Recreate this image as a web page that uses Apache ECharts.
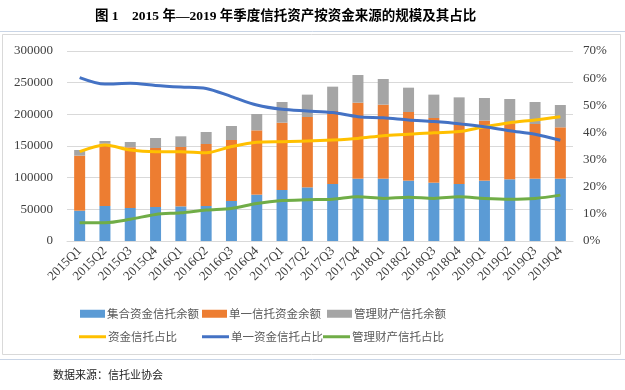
<!DOCTYPE html>
<html>
<head>
<meta charset="utf-8">
<script src="https://cdn.jsdelivr.net/npm/echarts@6/dist/echarts.min.js"></script>
<style>
html,body{margin:0;padding:0;background:#fff;}
#c{width:625px;height:390px;}
</style>
</head>
<body>
<div id="c"></div>
<script>
const categories = ['2015Q1','2015Q2','2015Q3','2015Q4','2016Q1','2016Q2','2016Q3','2016Q4','2017Q1','2017Q2','2017Q3','2017Q4','2018Q1','2018Q2','2018Q3','2018Q4','2019Q1','2019Q2','2019Q3','2019Q4'];
const collectiveAmt = [47900,55300,52100,53700,54700,55300,63200,73200,80500,84700,90000,98400,98400,95300,92100,90000,95300,97400,98400,98400];
const singleAmt = [86800,98400,95800,93100,93700,97900,96300,101500,106300,111100,115300,120000,116900,108400,102100,97400,94700,88400,86300,81100];
const managementAmt = [9000,4200,8400,15800,16900,18900,22100,25800,32700,35300,38400,43700,40500,38400,36900,39400,35800,38400,34800,35200];
const fundShare = [32.9,35.4,33.5,32.9,32.9,32.5,34.8,36.4,36.6,36.8,37.2,37.8,38.8,39.3,39.9,40.3,42.1,43.6,44.6,45.8];
const singleShare = [60.2,57.8,58.1,57.3,56.7,56.2,53.2,50.1,48.5,47.9,47.3,45.8,45.4,44.6,44.0,43.2,42.1,40.6,39.3,37.1];
const managementShare = [6.75,6.75,8.0,9.8,10.4,11.4,12.0,13.8,14.9,15.2,15.4,16.3,15.7,16.1,15.7,16.3,15.7,15.4,15.7,16.9];
const leftTicks = {min:0, max:300000, interval:50000};
const rightTicks = {min:0, max:70, interval:10};

const names = ['集合资金信托余额','单一信托资金余额','管理财产信托余额','资金信托占比','单一资金信托占比','管理财产信托占比'];
const colors = ['#5B9BD5','#ED7D31','#A5A5A5','#FFC000','#4472C4','#70AD47'];

const serif = 'Liberation Serif';
const cjk = 'Noto Sans CJK SC';
const legendFont = {fontSize:11.5, color:'#595959', fontFamily:cjk};

function mkLegend(name, left, top, isLine){
  return {
    data:[name], left:left, top:top, padding:0, itemGap:0,
    icon:'rect', itemWidth: isLine?27:25, itemHeight: isLine?3:8,
    textStyle: Object.assign({padding:[0,0,0,-3]}, legendFont)
  };
}

const chart = echarts.init(document.getElementById('c'), null, {renderer:'canvas'});
chart.setOption({
  animation:false,
  backgroundColor:'#fff',
  title:{
    text:'图 1　2015 年—2019 年季度信托资产按资金来源的规模及其占比',
    left:90, top:5,
    textStyle:{fontSize:13.5, fontWeight:'bold', color:'#000', fontFamily:'"Liberation Serif","Noto Sans CJK SC",serif'}
  },
  graphic:[
    {type:'line', shape:{x1:0,y1:31.5,x2:625,y2:31.5}, style:{stroke:'#C9D5E6', lineWidth:1}, silent:true},
    {type:'rect', shape:{x:2.5,y:34.5,width:618,height:320}, style:{fill:'none', stroke:'#D9D9D9', lineWidth:1}, silent:true},
    {type:'line', shape:{x1:0,y1:359.5,x2:625,y2:359.5}, style:{stroke:'#C9D5E6', lineWidth:1}, silent:true},
    {type:'text', left:53, top:369, style:{text:'数据来源：信托业协会', fontSize:11, fill:'#222', fontFamily:cjk}, silent:true}
  ],
  legend:[
    mkLegend(names[0],80,308,false),
    mkLegend(names[1],202,308,false),
    mkLegend(names[2],327,308,false),
    mkLegend(names[3],79,331,true),
    mkLegend(names[4],202,331,true),
    mkLegend(names[5],323,331,true)
  ],
  grid:{left:67, right:52, top:51, height:190, containLabel:false},
  xAxis:{
    type:'category', data:categories,
    axisTick:{show:false},
    axisLine:{lineStyle:{color:'#D9D9D9'}},
    axisLabel:{interval:0, rotate:45, margin:8, fontSize:13, color:'#404040', fontFamily:serif}
  },
  yAxis:[
    {type:'value', min:leftTicks.min, max:leftTicks.max, interval:leftTicks.interval,
     axisLine:{show:false}, axisTick:{show:false},
     splitLine:{lineStyle:{color:'#D9D9D9'}},
     axisLabel:{fontSize:13, color:'#404040', fontFamily:serif, margin:14, formatter:function(v){return String(v);}}},
    {type:'value', min:rightTicks.min, max:rightTicks.max, interval:rightTicks.interval, position:'right',
     axisLine:{show:false}, axisTick:{show:false}, splitLine:{show:false},
     axisLabel:{fontSize:13, color:'#404040', fontFamily:serif, margin:10, formatter:'{value}%'}}
  ],
  series:[
    {name:names[0], type:'bar', stack:'a', data:collectiveAmt, barWidth:11, itemStyle:{color:colors[0]}},
    {name:names[1], type:'bar', stack:'a', data:singleAmt, barWidth:11, itemStyle:{color:colors[1]}},
    {name:names[2], type:'bar', stack:'a', data:managementAmt, barWidth:11, itemStyle:{color:colors[2]}},
    {name:names[3], type:'line', yAxisIndex:1, data:fundShare, smooth:0.3, symbol:'none', lineStyle:{color:colors[3], width:3}, itemStyle:{color:colors[3]}},
    {name:names[4], type:'line', yAxisIndex:1, data:singleShare, smooth:0.3, symbol:'none', lineStyle:{color:colors[4], width:3}, itemStyle:{color:colors[4]}},
    {name:names[5], type:'line', yAxisIndex:1, data:managementShare, smooth:0.3, symbol:'none', lineStyle:{color:colors[5], width:3}, itemStyle:{color:colors[5]}}
  ]
});
</script>
</body>
</html>
